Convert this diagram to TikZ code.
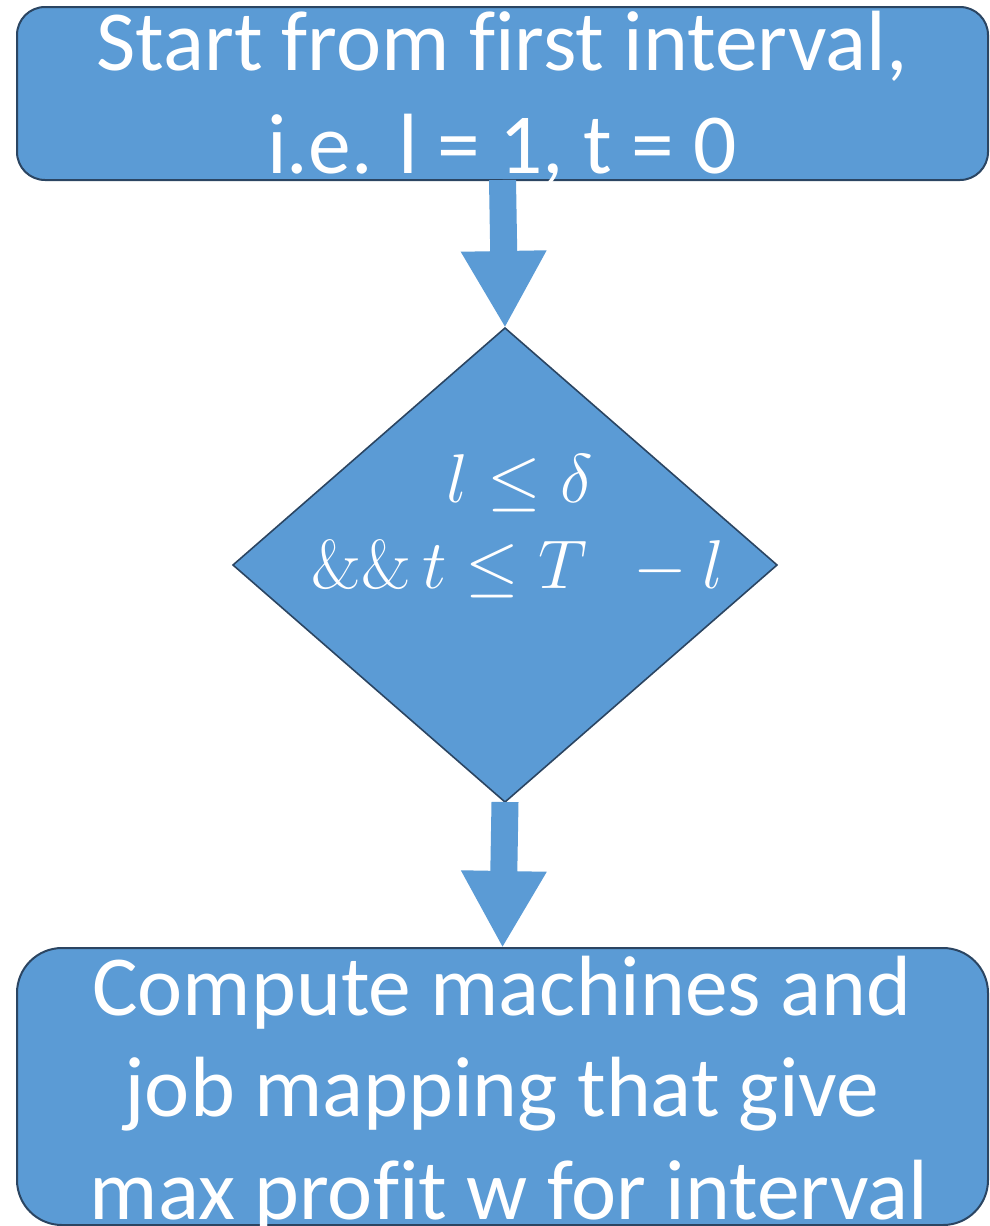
\documentclass[tikz,border=0pt]{standalone}
\usepackage{fix-cm}
\usepackage[no-math]{fontspec}
\setmainfont[Ligatures=NoCommon]{Carlito}
\usetikzlibrary{shapes.geometric,arrows.meta}

\definecolor{boxfill}{HTML}{5B9BD5}
\definecolor{boxline}{HTML}{2B4562}

\tikzset{
  stepbox/.style={draw=boxline, line width=2pt, fill=boxfill, rectangle,
    inner sep=0pt, outer sep=0pt},
  decision/.style={draw=boxline, line width=1.6pt, fill=boxfill, diamond,
    inner sep=0pt, outer sep=0pt, minimum width=544pt, minimum height=474pt},
  boxtext/.style={text=white, inner sep=0pt, anchor=base,
    font=\fontsize{85.5}{102}\selectfont},
  mathtext/.style={text=white, inner sep=0pt, anchor=base,
    font=\fontsize{69}{86}\selectfont},
  flow/.style={draw=boxfill, line width=27pt,
    -{Triangle[length=77pt,width=80pt]}},
}

\begin{document}
\begin{tikzpicture}[x=1pt,y=-1pt]
  \useasboundingbox (0,0) rectangle (989,1226);

  % start box
  \node[stepbox, rounded corners=28pt, minimum width=971pt, minimum height=173pt]
    (start) at (502.5,93.5) {};
  \node[boxtext] (start1) at (502,70) {Start from first interval,};
  \node[boxtext] (start2) at (502,173) {i.e. l = 1, t = 0};

  % loop condition
  \node[decision] (cond) at (505,565) {};
  \node[mathtext] (cond1) at (520,502) {$l \le \delta$};
  \node[mathtext] (cond2) at (518,588) {$\&\&\,t \le T\;\, - l$};

  % computation box
  \node[stepbox, rounded corners=45pt, minimum width=971pt, minimum height=277pt]
    (comp) at (502.5,1086.5) {};
  \node[boxtext] (comp1) at (502,1015) {Compute machines and};
  \node[boxtext] (comp2) at (502,1116) {job mapping that give};
  \node[boxtext] (comp3) at (509,1219) {max profit w for interval};

  % connectors
  \draw[flow] (start.south) -- (cond.north);
  \draw[flow] (cond.south) -- (comp.north);
\end{tikzpicture}
\end{document}
